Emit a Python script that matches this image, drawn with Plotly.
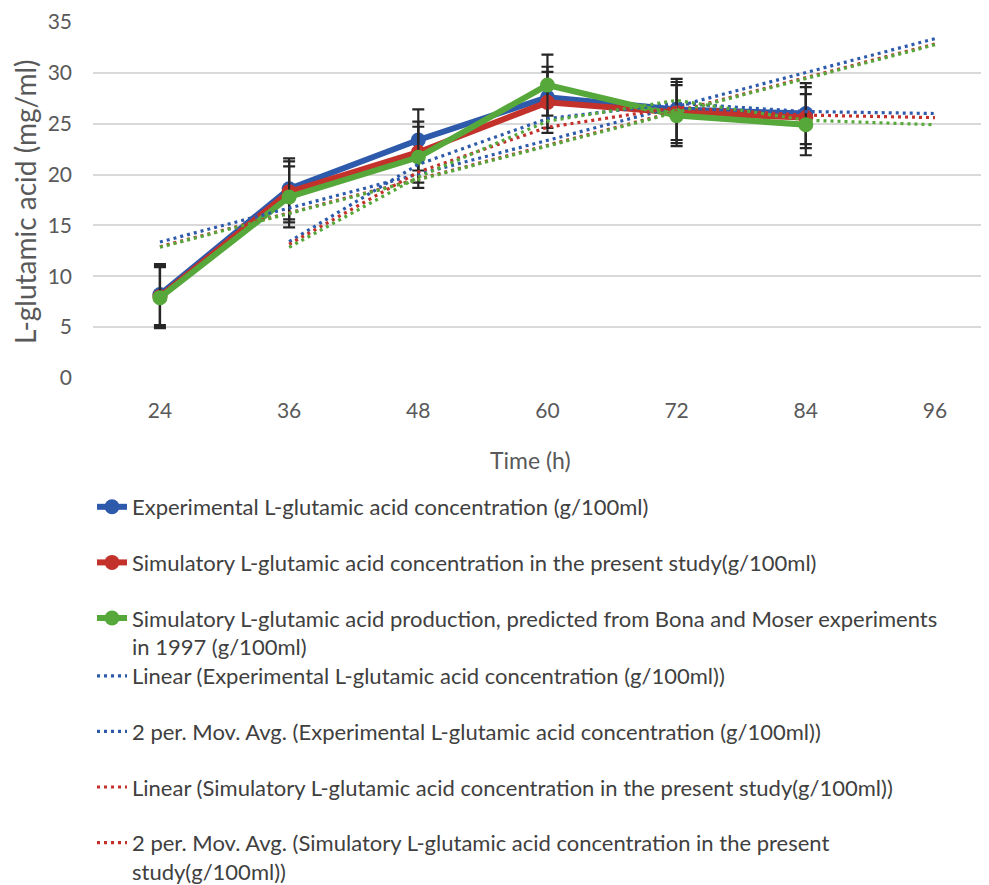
import numpy as np
import pandas as pd
import plotly.graph_objects as go

# ---- data ----
time_h = [24, 36, 48, 60, 72, 84]
forecast_h = [24, 36, 48, 60, 72, 84, 96]
tick_labels = ["24", "36", "48", "60", "72", "84", "96"]

experimental = [8.2, 18.6, 23.4, 27.6, 26.4, 26.0]
simulated_present = [8.0, 18.3, 22.2, 27.1, 26.1, 25.6]
simulated_bona_moser = [7.9, 17.8, 21.7, 28.8, 25.8, 24.9]
error_half = [3.0, 3.0, 3.0, 3.0, 3.0, 3.0]

names = [
    "Experimental L-glutamic acid concentration (g/100ml)",
    "Simulatory L-glutamic acid concentration in the present study(g/100ml)",
    "Simulatory L-glutamic acid production, predicted from Bona and Moser experiments<br>in 1997 (g/100ml)",
]
trend_names_exp = [
    "Linear (Experimental L-glutamic acid concentration (g/100ml))",
    "2 per. Mov. Avg. (Experimental L-glutamic acid concentration (g/100ml))",
]
trend_names_sim = [
    "Linear (Simulatory L-glutamic acid concentration in the present study(g/100ml))",
    "2 per. Mov. Avg. (Simulatory L-glutamic acid concentration in the present<br>study(g/100ml))",
]

colors = ["#2E5AAC", "#C3312B", "#56A83A"]
FONT = "Lato"
TXT = "#595959"

series = [experimental, simulated_present, simulated_bona_moser]


def linear_trend(vals):
    idx = np.arange(1, len(vals) + 1)
    slope, icpt = np.polyfit(idx, vals, 1)
    full = np.arange(1, len(forecast_h) + 1)
    return list(slope * full + icpt)


def moving_avg(vals):
    s = pd.Series(list(vals) + [np.nan] * (len(forecast_h) - len(vals)))
    ma = s.rolling(2, min_periods=1).mean()
    return list(ma.values[1:])


fig = go.Figure()

for i, vals in enumerate(series):
    fig.add_trace(go.Scatter(
        x=time_h, y=vals, name=names[i], mode="lines+markers",
        line=dict(color=colors[i], width=6),
        marker=dict(size=15, color=colors[i]),
        error_y=dict(type="data", array=error_half, color="#262626",
                     thickness=2.2, width=6),
        legend="legend", legendgroup=f"s{i}",
    ))

trend_legend_names = [trend_names_exp, trend_names_sim, [None, None]]
for i, vals in enumerate(series):
    show = i < 2
    fig.add_trace(go.Scatter(
        x=forecast_h, y=linear_trend(vals), mode="lines",
        name=trend_legend_names[i][0] or "Linear",
        line=dict(color=colors[i], width=3.2, dash="3px,4px"),
        showlegend=show, legend="legend2", legendgroup=f"l{i}",
        hoverinfo="skip",
    ))
    fig.add_trace(go.Scatter(
        x=forecast_h[1:], y=moving_avg(vals), mode="lines",
        name=trend_legend_names[i][1] or "Mov. Avg.",
        line=dict(color=colors[i], width=3.2, dash="3px,4px"),
        showlegend=show, legend="legend2", legendgroup=f"m{i}",
        hoverinfo="skip",
    ))

legend_common = dict(
    font=dict(family=FONT, size=22, color="#404040"),
    bgcolor="rgba(0,0,0,0)", tracegroupgap=24, valign="top",
    xref="container", yref="container", xanchor="left", yanchor="top",
    traceorder="grouped",
)

L, T, B = 85, 14, 515          # plot area edges (figure px)
PB = 885 - B                   # plot bottom in figure px
PW = 989 - 8 - L               # plot width
PH = PB - T                    # plot height

fig.update_layout(
    width=989, height=885,
    margin=dict(l=L, r=8, t=T, b=B, autoexpand=False),
    paper_bgcolor="white", plot_bgcolor="white",
    font=dict(family=FONT, color=TXT),
    xaxis=dict(
        range=[17.78, 101.02], tickmode="array", tickvals=forecast_h,
        ticktext=tick_labels, showgrid=False, zeroline=False,
        showline=False, ticks="", tickfont=dict(size=21, color=TXT),
        ticklabelstandoff=18,
    ),
    yaxis=dict(
        range=[0, 35], dtick=5, showgrid=True, gridcolor="#D9D9D9",
        gridwidth=1.5, zeroline=False, showline=False, ticks="",
        tickfont=dict(size=21, color=TXT), ticklabelstandoff=20,
    ),
    legend=dict(x=84 / 989, y=1 - 478 / 885, **legend_common),
    legend2=dict(x=84 / 989, y=1 - 647 / 885, **legend_common),
    annotations=[
        dict(text="Time (h)", x=(522 - L) / PW, y=(PB - 452) / PH,
             xref="paper", yref="paper", xanchor="center", yanchor="middle",
             showarrow=False, font=dict(family=FONT, size=23, color=TXT)),
        dict(text="L-glutamic acid (mg/ml)", textangle=-90,
             x=(17 - L) / PW, y=(PB - 194) / PH,
             xref="paper", yref="paper", xanchor="center", yanchor="middle",
             showarrow=False, font=dict(family=FONT, size=28, color=TXT)),
    ],
)

fig.write_html("out.html")
